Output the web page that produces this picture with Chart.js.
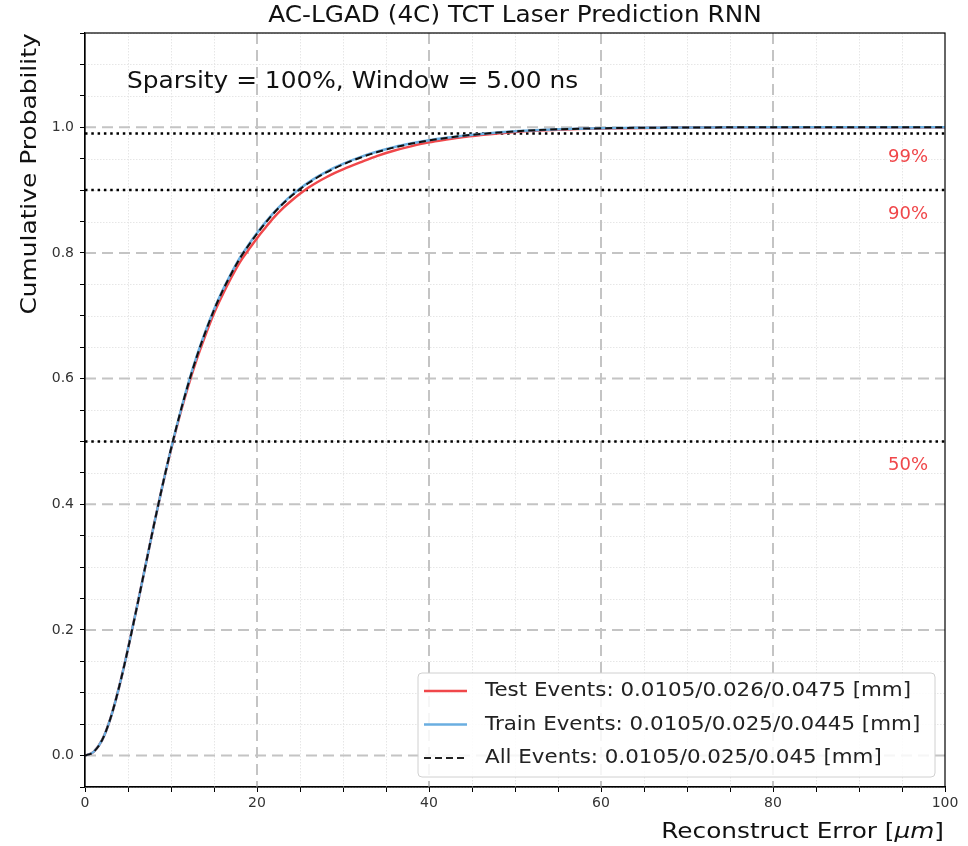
<!DOCTYPE html>
<html>
<head>
<meta charset="utf-8">
<script src="https://cdn.jsdelivr.net/npm/chart.js@4/dist/chart.umd.min.js"></script>
<style>
  body { margin: 0; background: #fff; }
  #wrap { width: 968px; height: 846px; }
</style>
</head>
<body>
<div id="wrap"><canvas id="cdf" width="968" height="846"></canvas></div>
<script>
// ── data ──
const errorUm = [0, 1, 2, 3, 4, 5, 6, 7, 8, 9, 10, 11, 12, 13, 14, 15, 16, 17, 18, 19, 20,
    21, 22, 23, 24, 25, 26, 27, 28, 29, 30, 32, 34, 36, 38, 40, 42, 44, 46, 48, 50,
    55, 60, 65, 70, 80, 90, 100];
const allEvents = [0, 0.006, 0.025, 0.061, 0.111, 0.170, 0.234, 0.300, 0.366, 0.429, 0.488, 0.542, 0.591, 0.635, 0.674, 0.709, 0.7395, 0.7665, 0.791, 0.8115, 0.8305,
    0.848, 0.864, 0.878, 0.8905, 0.9015, 0.9113, 0.920, 0.9277, 0.9346, 0.9408, 0.9515, 0.9605, 0.968, 0.974, 0.979, 0.983, 0.9865, 0.9892, 0.9915, 0.9935,
    0.9967, 0.9984, 0.9992, 0.9996, 1, 1, 1];
const trainEvents = [0, 0.006, 0.025, 0.061, 0.111, 0.170, 0.234, 0.300, 0.366, 0.429, 0.488, 0.542, 0.592, 0.636, 0.675, 0.710, 0.7405, 0.7675, 0.792, 0.8125, 0.8315,
    0.849, 0.865, 0.879, 0.8915, 0.9025, 0.9123, 0.921, 0.9287, 0.9356, 0.9418, 0.9525, 0.9613, 0.9687, 0.9745, 0.9793, 0.9832, 0.9866, 0.9893, 0.9916, 0.9936,
    0.9967, 0.9984, 0.9992, 0.9996, 1, 1, 1];
const testEvents = [0, 0.006, 0.025, 0.061, 0.111, 0.170, 0.234, 0.300, 0.366, 0.429, 0.487, 0.540, 0.588, 0.631, 0.669, 0.704, 0.7335, 0.7605, 0.785, 0.8045, 0.8235,
    0.8405, 0.857, 0.871, 0.883, 0.894, 0.904, 0.9125, 0.920, 0.927, 0.933, 0.944, 0.9545, 0.963, 0.970, 0.976, 0.9805, 0.9845, 0.9875, 0.9902, 0.9925,
    0.996, 0.998, 0.999, 0.9995, 1, 1, 1];

const levels = [0.5, 0.9, 0.99];
const levelLabels = ['50%', '90%', '99%'];

const seriesLabels = [
    'Test Events: 0.0105/0.026/0.0475 [mm]',
    'Train Events: 0.0105/0.025/0.0445 [mm]',
    'All Events: 0.0105/0.025/0.045 [mm]',
];

const FONT = "'DejaVu Sans', sans-serif";
const RED = '#f0474a';
const BLUE = '#6aaee0';

const toPts = ys => errorUm.map((x, i) => ({ x, y: ys[i] }));

// reference glyphs run a bit wider than DejaVu here, so stretch along the text
function wideText(ctx, text, x, y, sx, align = 'left', rot = 0) {
    ctx.save();
    ctx.translate(x, y);
    if (rot) ctx.rotate(rot);
    ctx.scale(sx, 1);
    ctx.textAlign = align;
    ctx.fillText(text, 0, 0);
    ctx.restore();
}

// ════════════════════════════════════════
// decorations: grid, frame, texts, legend
// ════════════════════════════════════════
const decor = {
    id: 'decor',
    beforeDatasetsDraw(chart) {
        const { ctx, chartArea: a, scales: { x, y } } = chart;
        ctx.save();
        // minor grid first
        ctx.strokeStyle = '#e6e6e6';
        ctx.lineWidth = 1;
        ctx.setLineDash([1.5, 1.5]);
        x.ticks.forEach(t => {
            if (t.value % 20 === 0) return;
            const px = Math.round(x.getPixelForValue(t.value)) + 0.5;
            ctx.beginPath(); ctx.moveTo(px, a.top); ctx.lineTo(px, a.bottom); ctx.stroke();
        });
        y.ticks.forEach(t => {
            const c = Math.round(t.value * 100);
            if (c % 20 === 0 && c >= 0 && c <= 100) return;
            const py = Math.round(y.getPixelForValue(t.value)) + 0.5;
            ctx.beginPath(); ctx.moveTo(a.left, py); ctx.lineTo(a.right, py); ctx.stroke();
        });
        // major grid, dashed
        ctx.strokeStyle = '#c4c4c4';
        ctx.lineWidth = 2;
        ctx.setLineDash([11, 6]);
        x.ticks.forEach(t => {
            if (t.value % 20 !== 0 || t.value === 0 || t.value === 100) return;
            const px = x.getPixelForValue(t.value);
            ctx.beginPath(); ctx.moveTo(px, a.top); ctx.lineTo(px, a.bottom); ctx.stroke();
        });
        y.ticks.forEach(t => {
            const c = Math.round(t.value * 100);
            if (!(c % 20 === 0 && c >= 0 && c <= 100)) return;
            const py = y.getPixelForValue(t.value);
            ctx.beginPath(); ctx.moveTo(a.left, py); ctx.lineTo(a.right, py); ctx.stroke();
        });
        ctx.restore();
    },
    afterDatasetsDraw(chart) {
        const { ctx, chartArea: a, scales: { x, y } } = chart;
        ctx.save();
        // frame
        ctx.strokeStyle = '#000';
        ctx.lineWidth = 1.2;
        ctx.setLineDash([]);
        ctx.strokeRect(a.left, a.top, a.right - a.left, a.bottom - a.top);

        // percent labels under the dotted lines
        ctx.fillStyle = RED;
        ctx.font = `18px ${FONT}`;
        ctx.textBaseline = 'middle';
        levels.forEach((lv, i) => {
            wideText(ctx, levelLabels[i], a.right - 17, y.getPixelForValue(lv) + 24, 1, 'right');
        });

        // annotation text
        ctx.fillStyle = '#111';
        ctx.font = `23px ${FONT}`;
        wideText(ctx, 'Sparsity = 100%, Window = 5.00 ns', x.getPixelForValue(0) + 42, 82, 1.08);

        // legend box
        const bx = 418, by = 673, bw = 517, bh = 104;
        ctx.fillStyle = 'rgba(255,255,255,0.85)';
        ctx.strokeStyle = '#d0d0d0';
        ctx.lineWidth = 1;
        ctx.beginPath();
        ctx.roundRect(bx, by, bw, bh, 4);
        ctx.fill(); ctx.stroke();

        const rows = [
            { color: RED, dash: [], width: 2.5 },
            { color: BLUE, dash: [], width: 2.5 },
            { color: '#222', dash: [7, 4], width: 2 },
        ];
        ctx.font = `20px ${FONT}`;
        rows.forEach((r, i) => {
            const ly = by + 18 + i * 33.5;
            ctx.strokeStyle = r.color;
            ctx.lineWidth = r.width;
            ctx.setLineDash(r.dash);
            ctx.beginPath(); ctx.moveTo(bx + 6, ly); ctx.lineTo(bx + 49, ly); ctx.stroke();
            ctx.fillStyle = '#222';
            wideText(ctx, seriesLabels[i], bx + 67, ly, 1.07);
        });
        ctx.restore();
    },
    afterDraw(chart) {
        const { ctx, chartArea: a } = chart;
        ctx.save();
        ctx.fillStyle = '#111';
        ctx.textBaseline = 'middle';
        // title
        ctx.font = `23px ${FONT}`;
        wideText(ctx, 'AC-LGAD (4C) TCT Laser Prediction RNN', (a.left + a.right) / 2, 16, 1.075, 'center');

        // y axis title
        ctx.font = `22px ${FONT}`;
        wideText(ctx, 'Cumulative Probability', 30, 174, 1.13, 'center', -Math.PI / 2);

        // x axis title, right aligned, italic unit
        const sx = 1.125;
        const parts = [
            ['Reconstruct Error [', `22px ${FONT}`],
            ['\u03bcm', `italic 22px ${FONT}`],
            [']', `22px ${FONT}`],
        ];
        let total = 0;
        parts.forEach(([t, f]) => { ctx.font = f; total += ctx.measureText(t).width * sx; });
        let cx = a.right - 1 - total;
        parts.forEach(([t, f]) => {
            ctx.font = f;
            wideText(ctx, t, cx, 832, sx);
            cx += ctx.measureText(t).width * sx;
        });
        ctx.restore();
    }
};

const levelSets = levels.map(lv => ({
    data: [{ x: 0, y: lv }, { x: 100, y: lv }],
    borderColor: '#000',
    borderWidth: 2.5,
    borderDash: [2.5, 3.8],
    pointRadius: 0,
    order: 3,
}));

new Chart(document.getElementById('cdf'), {
    type: 'line',
    data: {
        datasets: [
            {
                label: seriesLabels[2],
                data: toPts(allEvents),
                borderColor: '#111',
                borderWidth: 2,
                borderDash: [7, 4],
                pointRadius: 0,
                cubicInterpolationMode: 'monotone',
                order: 0,
            },
            {
                label: seriesLabels[1],
                data: toPts(trainEvents),
                borderColor: BLUE,
                borderWidth: 2.5,
                pointRadius: 0,
                cubicInterpolationMode: 'monotone',
                order: 1,
            },
            {
                label: seriesLabels[0],
                data: toPts(testEvents),
                borderColor: RED,
                borderWidth: 2.5,
                pointRadius: 0,
                cubicInterpolationMode: 'monotone',
                order: 2,
            },
            ...levelSets,
        ]
    },
    options: {
        responsive: false,
        animation: false,
        layout: { padding: { left: 0, top: 33, right: 23, bottom: 0 } },
        plugins: {
            legend: { display: false },
            tooltip: { enabled: false },
        },
        scales: {
            x: {
                type: 'linear',
                min: 0,
                max: 100,
                afterFit: s => { s.height = 59; },
                ticks: {
                    stepSize: 5,
                    autoSkip: false,
                    maxRotation: 0,
                    padding: 3,
                    color: '#333',
                    font: { family: FONT, size: 14 },
                    callback: v => (v % 20 === 0 ? String(v) : ''),
                },
                grid: { drawOnChartArea: false, tickLength: 5, tickColor: '#000', tickWidth: 1 },
                border: { color: '#000', width: 1.2 },
            },
            y: {
                min: -0.05,
                max: 1.15,
                afterFit: s => { s.width = 85; },
                ticks: {
                    stepSize: 0.05,
                    autoSkip: false,
                    padding: 6,
                    color: '#333',
                    font: { family: FONT, size: 14 },
                    callback: v => {
                        const c = Math.round(v * 100);
                        return (c >= 0 && c <= 100 && c % 20 === 0) ? (c / 100).toFixed(1) : '';
                    },
                },
                grid: { drawOnChartArea: false, tickLength: 5, tickColor: '#000', tickWidth: 1 },
                border: { color: '#000', width: 1.2 },
            }
        }
    },
    plugins: [decor]
});
</script>
</body>
</html>
